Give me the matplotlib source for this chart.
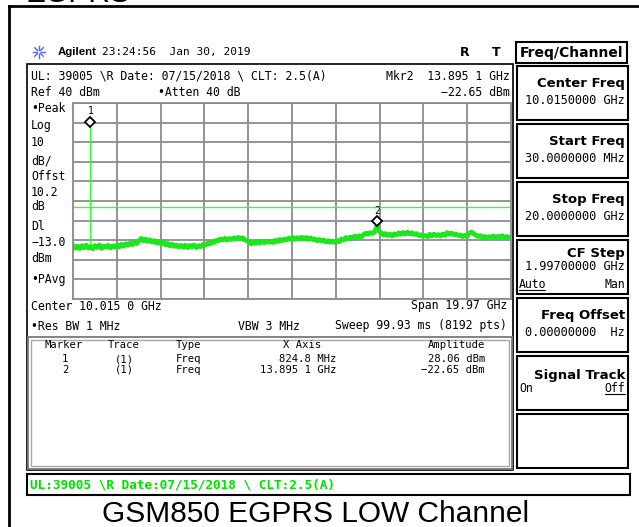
import numpy as np
import matplotlib.pyplot as plt
from matplotlib.patches import Rectangle
import matplotlib.transforms as mtransforms

W, H = 639, 527

# sweep settings
start_ghz = 0.03
stop_ghz = 20.0
ref_dbm = 40
div_db = 10
display_line = -13.0

# trace (dBm), evenly spaced across the sweep, ~0.1 GHz apart
trace_dbm = [
    -32.6, -34.1, -33.0, -34.3, -32.8, -33.9, -32.5, -34.0, -33.2, -34.4,
    -32.7, -33.8, -32.4, -34.2, -33.0, -33.6, -32.6, -34.0, -32.9, -33.5,
    -32.4, -33.5, -32.0, -33.1, -31.8, -32.6, -31.4, -32.3, -31.0, -31.7,
    -30.2, -29.1, -30.3, -29.4, -30.6, -29.8, -31.0, -30.2, -31.5, -30.7,
    -31.9, -31.0, -32.4, -31.6, -32.9, -32.0, -33.2, -32.4, -33.5, -32.6,
    -33.6, -32.5, -33.8, -32.7, -33.4, -32.4, -33.7, -32.8, -33.3, -32.2,
    -32.6, -31.6, -32.0, -30.9, -31.2, -30.1, -30.4, -29.3, -29.9, -29.0,
    -30.0, -29.1, -29.7, -28.8, -29.5, -28.5, -29.2, -28.7, -29.8, -30.3,
    -31.0, -31.9, -30.8, -31.6, -30.6, -31.5, -30.5, -31.3, -30.4, -31.1,
    -30.4, -31.2, -30.0, -30.7, -29.6, -30.3, -29.4, -29.9, -28.9, -29.6,
    -28.6, -29.5, -28.7, -29.4, -28.5, -29.3, -28.6, -29.6, -28.8, -29.7,
    -29.4, -30.3, -29.6, -30.5, -29.9, -30.9, -30.2, -31.1, -30.4, -31.2,
    -30.1, -30.8, -29.3, -29.9, -28.6, -29.3, -28.4, -28.9, -27.9, -28.6,
    -27.7, -28.4, -27.2, -26.4, -27.0, -26.1, -26.6, -25.7, -23.0, -25.4,
    -26.2, -27.4, -26.6, -27.6, -26.9, -27.8, -26.7, -27.3, -26.2, -27.0,
    -26.0, -26.9, -25.9, -26.8, -26.2, -27.1, -26.6, -27.6, -27.2, -28.1,
    -27.6, -28.2, -27.0, -27.8, -26.9, -27.7, -27.1, -27.9, -26.8, -27.5,
    -26.1, -27.0, -26.3, -27.2, -26.8, -27.6, -27.3, -28.2, -27.5, -28.1,
    -26.4, -25.8, -26.6, -27.4, -28.1, -27.6, -28.7, -28.0, -28.9, -28.2,
    -28.6, -27.8, -28.7, -28.0, -28.5, -27.7, -28.8, -28.1, -28.6, -28.2,
]
trace_ghz = np.linspace(start_ghz, stop_ghz, len(trace_dbm))

# carrier spike
carrier_ghz = 0.8248
carrier_dbm = 28.06
carrier_floor = -33.2

# markers
marker_names = ['1', '2']
marker_ghz = [0.8248, 13.8951]
marker_dbm = [28.06, -22.65]

# left column annotations
side_labels = ['\u2022Peak', 'Log', '10', 'dB/', 'Offst', '10.2', 'dB', 'Dl',
               '\u221213.0', 'dBm', '\u2022PAvg']
side_y = [108, 125, 142, 161, 177, 192, 207, 227, 243, 258, 279]

# softkeys
key_titles = ['Center Freq', 'Start Freq', 'Stop Freq', 'CF Step',
              'Freq Offset', 'Signal Track', '']
key_values = ['10.0150000 GHz', '30.0000000 MHz', '20.0000000 GHz',
              '1.99700000 GHz', '0.00000000  Hz', '', '']
key_tops = [66, 124, 182, 240, 298, 356, 414]

MONO = 'DejaVu Sans Mono'

fig = plt.figure(figsize=(6.39, 5.27), dpi=100)
bg = fig.add_axes([0, 0, 1, 1])
bg.set_xlim(0, W)
bg.set_ylim(H, 0)
bg.axis('off')


def txt(x, y, s, size=8.2, ha='left', weight='normal', family=MONO, color='black', va='center'):
    return bg.text(x, y, s, fontsize=size, ha=ha, va=va, fontweight=weight,
                   family=family, color=color)


def box(x0, y0, x1, y1, color='black', lw=1.5):
    bg.add_patch(Rectangle((x0, y0), x1 - x0, y1 - y0, fill=False, ec=color, lw=lw))


# page frame + bits of previous caption
bg.plot([9, 9], [6, H], color='black', lw=2)
bg.plot([9, W], [6, 6], color='black', lw=2)
txt(25, 1.5, 'EGPRS', size=21.5, family='Liberation Sans', va='baseline')

# header line
for a in np.arange(0, 360, 45):
    r = np.radians(a)
    bg.plot([39 + 2 * np.cos(r), 39 + 6 * np.cos(r)], [52 + 2 * np.sin(r), 52 + 6 * np.sin(r)],
            color='#4a66f0', lw=1)
txt(58, 52, 'Agilent', size=8.2, weight='bold', family='Liberation Sans')
txt(102, 52, '23:24:56  Jan 30, 2019', size=8)
txt(465, 52, 'R', size=9, weight='bold', family='DejaVu Sans', ha='center')
txt(496, 52, 'T', size=9, weight='bold', family='DejaVu Sans', ha='center')

# screen box
box(27, 64, 513, 470, lw=1.2)
txt(31, 76, 'UL: 39005 \\R Date: 07/15/2018 \\ CLT: 2.5(A)', size=8.3)
txt(510, 76, 'Mkr2  13.895 1 GHz', size=8.3, ha='right')
txt(31, 93, 'Ref 40 dBm', size=8.3)
txt(158, 93, '\u2022Atten 40 dB', size=8.3)
txt(510, 93, '\u221222.65 dBm', size=8.3, ha='right')
for s, y in zip(side_labels, side_y):
    txt(31, y, s, size=8.3)

txt(31, 306, 'Center 10.015 0 GHz', size=8.3)
txt(507, 306, 'Span 19.97 GHz', size=8.3, ha='right')
txt(31, 326, '\u2022Res BW 1 MHz', size=8.3)
txt(238, 326, 'VBW 3 MHz', size=8.3)
txt(507, 326, 'Sweep 99.93 ms (8192 pts)', size=8.3, ha='right')

# marker table
box(28, 337, 512, 469, color='#7a7a7a', lw=1.3)
box(31, 340, 509, 466, color='#a8a8a8', lw=1)
txt(64, 345, 'Marker', size=7.6, ha='center')
txt(124, 345, 'Trace', size=7.6, ha='center')
txt(176, 345, 'Type', size=7.6)
txt(321, 345, 'X Axis', size=7.6, ha='right')
txt(485, 345, 'Amplitude', size=7.6, ha='right')
x_text = ['824.8 MHz', '13.895 1 GHz']
amp_text = ['28.06 dBm', '\u221222.65 dBm']
for i, y in enumerate([359, 370]):
    txt(65, y, marker_names[i], size=7.6, ha='center')
    txt(124, y, '(1)', size=7.6, ha='center')
    txt(176, y, 'Freq', size=7.6)
    txt(336, y, x_text[i], size=7.6, ha='right')
    txt(485, y, amp_text[i], size=7.6, ha='right')

# softkey column
box(516, 42, 627, 63)
txt(520, 52.5, 'Freq/Channel', size=10, weight='bold', family='DejaVu Sans')
for t, v, top in zip(key_titles, key_values, key_tops):
    box(517, top, 628, top + 54)
    if t == 'CF Step':
        txt(625, top + 13, t, size=9.5, weight='bold', family='DejaVu Sans', ha='right')
        txt(625, top + 27, v, size=8.6, ha='right')
        txt(519, top + 44, 'Auto', size=8.3)
        bg.plot([519, 545], [top + 50, top + 50], color='black', lw=0.8)
        txt(625, top + 44, 'Man', size=8.3, ha='right')
    elif t == 'Signal Track':
        txt(625, top + 19, t, size=9.5, weight='bold', family='DejaVu Sans', ha='right')
        txt(519, top + 32, 'On', size=8.3)
        txt(625, top + 32, 'Off', size=8.3, ha='right')
        bg.plot([605, 625], [top + 38, top + 38], color='black', lw=0.8)
    elif t:
        txt(625, top + 18, t, size=9.5, weight='bold', family='DejaVu Sans', ha='right')
        txt(625, top + 35, v, size=8.6, ha='right')

# status bar
box(27, 474, 630, 495)
txt(30, 485, 'UL:39005 \\R Date:07/15/2018 \\ CLT:2.5(A)', size=9.2, weight='bold',
    color='#00e000')

# caption
txt(316, 514, 'GSM850 EGPRS LOW Channel', size=21.5, family='Liberation Sans', ha='center')

# graticule and trace
ax = fig.add_axes([73 / W, 1 - 299 / H, 438 / W, 196 / H])
ax.set_xlim(start_ghz, stop_ghz)
ax.set_ylim(ref_dbm - 10 * div_db, ref_dbm)
ax.set_xticks(np.linspace(start_ghz, stop_ghz, 11))
ax.set_yticks(np.arange(ref_dbm - 10 * div_db, ref_dbm + 1, div_db))
ax.tick_params(length=0, labelbottom=False, labelleft=False)
ax.grid(color='#8c8c8c', lw=1.3)
for sp in ax.spines.values():
    sp.set_color('#8c8c8c')
    sp.set_linewidth(1.3)

ax.axhline(display_line, color='#33ff33', lw=1)
ax.vlines(carrier_ghz, carrier_floor, carrier_dbm, color='#33ff33', lw=1)
ax.plot(trace_ghz, trace_dbm, color='#1ee61e', lw=3.4)

offs = mtransforms.offset_copy(ax.transData, fig=fig, y=3.2, units='points')
ax.plot(marker_ghz, marker_dbm, 'D', ms=5, mfc='white', mec='black', mew=1.3,
        transform=offs, zorder=5)
for n, f, a in zip(marker_names, marker_ghz, marker_dbm):
    ax.annotate(n, (f, a), xytext=(0, 11), textcoords='offset points', ha='center',
                va='center', fontsize=7, family=MONO)

fig.savefig('out.png', dpi=100)
